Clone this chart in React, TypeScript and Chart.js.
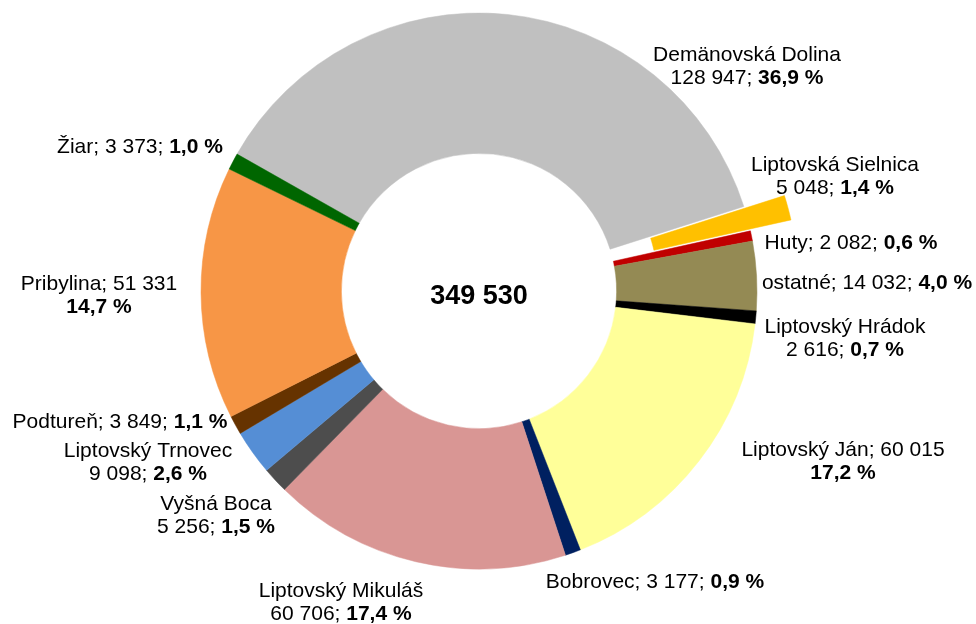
import React, { useEffect, useRef } from "react";
import { Chart, registerables } from "chart.js";

Chart.register(...registerables);

// ---- data ----
const categories = [
  "Demänovská Dolina",
  "Liptovská Sielnica",
  "Huty",
  "ostatné",
  "Liptovský Hrádok",
  "Liptovský Ján",
  "Bobrovec",
  "Liptovský Mikuláš",
  "Vyšná Boca",
  "Liptovský Trnovec",
  "Podtureň",
  "Pribylina",
  "Žiar",
];
const values = [128947, 5048, 2082, 14032, 2616, 60015, 3177, 60706, 5256, 9098, 3849, 51331, 3373];

// ---- styles / layout ----
const colors = [
  "#C0C0C0",
  "#FFC000",
  "#C00000",
  "#948A54",
  "#000000",
  "#FFFF99",
  "#002060",
  "#D99694",
  "#4D4D4D",
  "#558ED5",
  "#663300",
  "#F79646",
  "#006600",
];
// explosion distance (px) per slice, applied as a pure translation
const explode = [0, 42, 0, 0, 0, 0, 0, 0, 0, 0, 0, 0, 0];
// 0: "name" / "value; pct"   1: "name; value" / "pct"   2: "name; value; pct"
const labelStyles = [0, 0, 2, 2, 0, 1, 2, 0, 0, 0, 2, 1, 2];
// label block: center x, first baseline y (canvas px)
const labelAnchors: [number, number][] = [
  [747, 61],
  [835, 171],
  [851, 249],
  [867, 289],
  [845, 333],
  [843, 456],
  [655, 588],
  [341, 597],
  [216, 510],
  [148, 457],
  [120, 428],
  [99, 290],
  [140, 153],
];

const FONT = '"Liberation Sans", Arial, sans-serif';
const LABEL_SIZE = 21;
const LINE_H = 23;

const total = values.reduce((a, b) => a + b, 0);
const fmtNum = (v: number) => String(v).replace(/\B(?=(\d{3})+(?!\d))/g, " ");
const fmtPct = (v: number) => ((v / total) * 100).toFixed(1).replace(".", ",") + " %";

type Seg = [string, boolean];

function buildLines(i: number): Seg[][] {
  const name = categories[i];
  const val = fmtNum(values[i]);
  const pct = fmtPct(values[i]);
  const st = labelStyles[i];
  if (st === 0) return [[[name, false]], [[val + "; ", false], [pct, true]]];
  if (st === 1) return [[[name + "; " + val, false]], [[pct, true]]];
  return [[[name + "; " + val + "; ", false], [pct, true]]];
}

const explodePlugin = {
  id: "explodeSlices",
  afterDatasetsUpdate(chart: any) {
    const meta = chart.getDatasetMeta(0);
    meta.data.forEach((arc: any, i: number) => {
      const d = explode[i] || 0;
      if (!d) return;
      const mid = (arc.startAngle + arc.endAngle) / 2;
      arc.x = arc.x + Math.cos(mid) * d;
      arc.y = arc.y + Math.sin(mid) * d;
    });
  },
};

const labelsPlugin = {
  id: "customLabels",
  afterDraw(chart: any) {
    const ctx: CanvasRenderingContext2D = chart.ctx;
    ctx.save();
    ctx.fillStyle = "#000000";
    ctx.textBaseline = "alphabetic";
    ctx.textAlign = "left";
    for (let i = 0; i < categories.length; i++) {
      const lines = buildLines(i);
      const [cx, by] = labelAnchors[i];
      lines.forEach((line, li) => {
        let w = 0;
        for (const [t, b] of line) {
          ctx.font = `${b ? "bold " : ""}${LABEL_SIZE}px ${FONT}`;
          w += ctx.measureText(t).width;
        }
        let x = cx - w / 2;
        const y = by + li * LINE_H;
        for (const [t, b] of line) {
          ctx.font = `${b ? "bold " : ""}${LABEL_SIZE}px ${FONT}`;
          ctx.fillText(t, x, y);
          x += ctx.measureText(t).width;
        }
      });
    }
    // center total
    const arc = chart.getDatasetMeta(0).data[0];
    ctx.font = `bold 27px ${FONT}`;
    ctx.textAlign = "center";
    ctx.fillText(fmtNum(total), arc.x, 304);
    ctx.restore();
  },
};

export default function App() {
  const ref = useRef<HTMLCanvasElement | null>(null);
  useEffect(() => {
    if (!ref.current) return;
    const chart = new Chart(ref.current, {
      type: "doughnut",
      data: {
        labels: categories,
        datasets: [
          {
            data: values,
            backgroundColor: colors,
            borderColor: colors,
            borderWidth: 0.5,
            hoverOffset: 0,
            clip: false as any,
          },
        ],
      },
      options: {
        responsive: false,
        animation: false,
        rotation: -60.5,
        cutout: "49.5%",
        radius: 278,
        layout: { padding: { left: 0, right: 18, top: 0, bottom: 42 } },
        plugins: {
          legend: { display: false },
          tooltip: { enabled: false },
          title: { display: false },
        },
        events: [],
      },
      plugins: [explodePlugin, labelsPlugin],
    });
    return () => chart.destroy();
  }, []);
  return (
    <div style={{ position: "fixed", left: 0, top: 0, width: 976, height: 624, background: "#ffffff" }}>
      <canvas ref={ref} width={976} height={624} style={{ display: "block" }} />
    </div>
  );
}
